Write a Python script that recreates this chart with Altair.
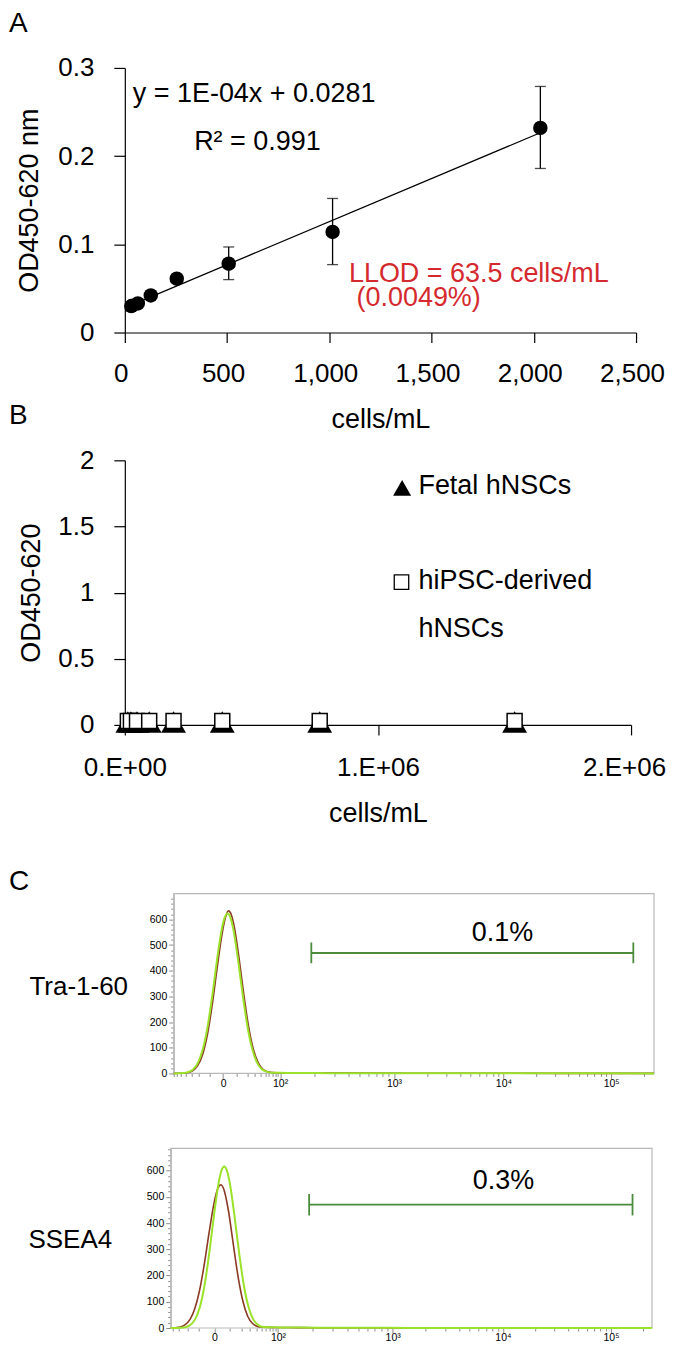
import math
import altair as alt
import pandas as pd

FONT = "Liberation Sans"
RED = "#d42a2f"
BROWN = "#8b3a24"
LIME = "#9be22a"
GATE = "#4b8b3b"
FRAME = "#b8b8b8"
TICKGRAY = "#8c8c8c"

# ---------------- Panel A data ----------------
A_CELLS = [31.75, 63.5, 127, 254, 508, 1016, 2032]
A_OD = [0.030, 0.033, 0.042, 0.061, 0.078, 0.114, 0.232]
A_OD_LOW = [0.027, 0.030, 0.039, 0.057, 0.060, 0.077, 0.186]
A_OD_HIGH = [0.033, 0.036, 0.045, 0.065, 0.097, 0.152, 0.279]
A_X_TICKS = [0, 500, 1000, 1500, 2000, 2500]
A_Y_TICKS = [0, 0.1, 0.2, 0.3]
A_NOTE_TEXT = ["y = 1E-04x + 0.0281", "R² = 0.991", "LLOD = 63.5 cells/mL", "(0.0049%)"]
A_NOTE_X = [39, 339, 1096, 1133]
A_NOTE_Y = [0.2615, 0.2064, 0.0569, 0.0306]
A_NOTE_COLOR = ["black", "black", RED, RED]

# ---------------- Panel B data ----------------
B_CELLS = [12031, 24063, 48125, 96250, 192500, 385000, 770000, 1540000]
B_FETAL = [0.022, 0.022, 0.022, 0.022, 0.022, 0.022, 0.022, 0.022]
B_IPSC = [0.030, 0.030, 0.030, 0.030, 0.030, 0.030, 0.030, 0.030]
B_X_TICKS = [0, 1000000, 2000000]
B_X_LABELS = ["0.E+00", "1.E+06", "2.E+06"]
B_Y_TICKS = [0, 0.5, 1, 1.5, 2]
B_LEG_TEXT = ["Fetal hNSCs", "hiPSC-derived", "hNSCs"]
B_LEG_TEXT_X = [1160000, 1160000, 1160000]
B_LEG_TEXT_Y = [1.743, 1.026, 0.664]
B_LEG_SYM_X = [1095500, 1093000]
B_LEG_SYM_Y = [1.792, 1.079]

# ---------------- Panel C data (display channel units; 0..1000 is the framed range) ----------------
C_X_LABELS = ["0", "10²", "10³", "10⁴", "10⁵"]
C1_X_MAJOR = [102.8, 221.4, 458.5, 686.4, 910.8]
C2_X_MAJOR = [90.7, 222.7, 461.0, 690.2, 914.7]
C_FRAME_X = [0, 1000]
C_YMAX = [700, 685]
C_XMIN = [-101.9, -95.5]

C1_GREEN_X = [0, 10, 20, 30, 40, 50, 60, 70, 80, 90, 100, 106, 112, 118, 124, 134, 144, 154, 164, 174, 184,
              194, 205, 220, 240, 270, 320, 400, 500, 600, 700, 800, 900, 1000]
C1_GREEN_Y = [0, 0.5, 1.5, 5, 15, 40, 91, 177, 300, 441, 562, 607, 623, 607, 562, 441, 300, 177, 91, 40, 15,
              6, 3, 2.5, 2, 1.5, 1, 1, 0.5, 0.5, 0.3, 0.2, 0.1, 0]
C1_BROWN_X = [0, 10, 20, 30, 40, 50, 60, 70, 80, 90, 100, 108, 114, 120, 126, 136, 146, 156, 166, 176, 186,
              196, 207, 220, 240, 270, 320, 400, 500, 600, 700, 800, 900, 1000]
C1_BROWN_Y = [0, 0.3, 1, 3.5, 11, 31, 73, 150, 266, 406, 537, 610, 633, 617, 571, 448, 305, 180, 92, 41, 15,
              6, 3, 2.5, 2, 1.5, 1, 1, 0.5, 0.5, 0.3, 0.2, 0.1, 0]
C2_GREEN_X = [0, 10, 20, 30, 40, 50, 60, 70, 80, 90, 100, 106, 111, 116, 122, 132, 142, 152, 162, 172, 182,
              192, 205, 220, 240, 270, 320, 400, 500, 600, 700, 800, 900, 1000]
C2_GREEN_Y = [0, 0.2, 0.8, 3, 11, 31, 77, 161, 286, 433, 559, 604, 616, 604, 559, 433, 286, 161, 77, 31, 11,
              4, 3, 2.5, 2, 1.5, 1, 1, 0.5, 0.5, 0.3, 0.2, 0.1, 0]
C2_BROWN_X = [0, 10, 20, 30, 40, 50, 60, 70, 80, 90, 98, 104, 110, 120, 130, 140, 150, 160, 170, 180, 190,
              205, 220, 240, 270, 320, 400, 500, 600, 700, 800, 900, 1000]
C2_BROWN_Y = [0, 1, 4, 13, 33, 74, 145, 247, 368, 477, 533, 546, 530, 445, 318, 194, 101, 44, 17, 6, 3,
              2.5, 2, 2, 1.5, 1, 1, 0.5, 0.5, 0.3, 0.2, 0.1, 0]

C_ROW_LABELS = ["Tra-1-60", "SSEA4"]
C_PCT = ["0.1%", "0.3%"]
C_PCT_X = [684.3, 691.4]
C_PCT_Y = [517.6, 530.4]
C_GATE_X1 = [286.4, 287.5]
C_GATE_X2 = [956.9, 959.5]
C_GATE_Y = [469, 470]
C_GATE_LO = [429, 429]
C_GATE_HI = [510, 511]


def spacer(w, h):
    return alt.Chart(pd.DataFrame({"v": [0]})).mark_point(opacity=0).encode(
        x=alt.X("v:Q", axis=None), y=alt.Y("v:Q", axis=None)
    ).properties(width=w, height=h)


def letter(t, dy):
    return alt.TitleParams(text=t, anchor="start", frame="group", dx=-116, dy=dy, offset=0, fontSize=28,
                           font=FONT, fontWeight="normal", baseline="alphabetic", color="black")


def main_axis(**kw):
    base = dict(grid=False, domainColor="black", domainWidth=1.2, tickColor="black", tickWidth=1.2,
                labelFont=FONT, labelFontSize=26, labelColor="black", labelOverlap=False,
                titleFont=FONT, titleFontSize=27, titleFontWeight="normal", titleColor="black",
                titleBaseline="alphabetic", titleAlign="center")
    base.update(kw)
    return alt.Axis(**base)


# ---------------- Panel A ----------------
dfA = pd.DataFrame({"x": A_CELLS, "y": A_OD, "lo": A_OD_LOW, "hi": A_OD_HIGH})
xsA = alt.Scale(domain=[0, 2500], nice=False, zero=False)
ysA = alt.Scale(domain=[0, 0.3], nice=False, zero=False)
xaxA = main_axis(values=A_X_TICKS, format=",d", title="cells/mL", tickSize=10, labelPadding=39,
                 labelBaseline="alphabetic", labelFlush=False, labelOffset=-4, titleX=256, titleY=95)
yaxA = main_axis(values=A_Y_TICKS, format="~g", title="OD450-620 nm", tickSize=11, labelPadding=20,
                 titleAngle=270, titleX=-87, titleY=132.5)


def XA(f):
    return alt.X(f, type="quantitative", scale=xsA, axis=xaxA)


def YA(f):
    return alt.Y(f, type="quantitative", scale=ysA, axis=yaxA)


A_trend = alt.Chart(dfA).transform_regression("x", "y").mark_line(color="black", strokeWidth=1.3).encode(
    x=XA("x"), y=YA("y"))
A_err = alt.Chart(dfA).mark_rule(color="black", strokeWidth=1.3).encode(x=XA("x"), y=YA("lo"), y2="hi")
A_cap_lo = alt.Chart(dfA).mark_tick(color="black", orient="horizontal", size=11, thickness=1.3).encode(
    x=XA("x"), y=YA("lo"))
A_cap_hi = alt.Chart(dfA).mark_tick(color="black", orient="horizontal", size=11, thickness=1.3).encode(
    x=XA("x"), y=YA("hi"))
A_pts = alt.Chart(dfA).mark_circle(color="black", size=210, opacity=1).encode(x=XA("x"), y=YA("y"))
dfA_notes = pd.DataFrame({"t": A_NOTE_TEXT, "x": A_NOTE_X, "y": A_NOTE_Y, "c": A_NOTE_COLOR})
A_notes = alt.Chart(dfA_notes).mark_text(align="left", baseline="alphabetic", font=FONT, fontSize=27).encode(
    x=XA("x"), y=YA("y"), text="t:N", color=alt.Color("c:N", scale=None))

chartA = alt.layer(A_trend, A_err, A_cap_lo, A_cap_hi, A_pts, A_notes).properties(
    width=512, height=265, title=letter("A", 5))

# ---------------- Panel B ----------------
dfB = pd.DataFrame({"x": B_CELLS, "fetal": B_FETAL, "ipsc": B_IPSC})
xsB = alt.Scale(domain=[0, 2000000], nice=False, zero=False)
ysB = alt.Scale(domain=[0, 2], nice=False, zero=False)
b_label_expr = " : ".join(
    f"datum.value == {v} ? '{lab}'" for v, lab in zip(B_X_TICKS, B_X_LABELS)) + " : ''"
xaxB = main_axis(values=B_X_TICKS, labelExpr=b_label_expr, title="cells/mL", tickSize=10, labelPadding=41,
                 labelBaseline="alphabetic", labelFlush=False,
                 labelOffset={"condition": {"test": f"datum.value == {B_X_TICKS[-1]}", "value": -7},
                              "value": 0},
                 titleX=253.5, titleY=97)
yaxB = main_axis(values=B_Y_TICKS, format="~g", title="OD450-620", tickSize=11, labelPadding=20,
                 titleAngle=270, titleX=-85, titleY=132.5)


def XB(f):
    return alt.X(f, type="quantitative", scale=xsB, axis=xaxB)


def YB(f):
    return alt.Y(f, type="quantitative", scale=ysB, axis=yaxB)


B_tri = alt.Chart(dfB).mark_point(shape="triangle-up", filled=True, color="black", size=620, opacity=1).encode(
    x=XB("x"), y=YB("fetal"))
B_sq = alt.Chart(dfB).mark_point(shape="square", filled=True, fill="white", stroke="black", strokeWidth=1.5,
                                 size=225, opacity=1).encode(x=XB("x"), y=YB("ipsc"))
dfB_sym = pd.DataFrame({"x": B_LEG_SYM_X, "y": B_LEG_SYM_Y})
B_leg_tri = alt.Chart(dfB_sym.iloc[[0]]).mark_point(shape="triangle-up", filled=True, color="black", size=324,
                                                     opacity=1).encode(x=XB("x"), y=YB("y"))
B_leg_sq = alt.Chart(dfB_sym.iloc[[1]]).mark_point(shape="square", filled=True, fill="white", stroke="black",
                                                    strokeWidth=1.3, size=210, opacity=1).encode(
    x=XB("x"), y=YB("y"))
dfB_txt = pd.DataFrame({"t": B_LEG_TEXT, "x": B_LEG_TEXT_X, "y": B_LEG_TEXT_Y})
B_leg_txt = alt.Chart(dfB_txt).mark_text(align="left", baseline="alphabetic", font=FONT, fontSize=27,
                                         color="black").encode(x=XB("x"), y=YB("y"), text="t:N")

chartB = alt.layer(B_tri, B_sq, B_leg_tri, B_leg_sq, B_leg_txt).properties(
    width=507, height=265, title=letter("B", 5))


# ---------------- Panel C ----------------
def x_minor(major, end=1000):
    p0, p2, p3, p4, p5 = major
    w = p2 - p0
    out = []
    for m in range(1, 10):
        f = math.asinh(m * 10 / 15) / math.asinh(100 / 15)
        out.append(p0 + w * f)
        out.append(p0 - w * f)
    for start, d in [(p2, p3 - p2), (p3, p4 - p3), (p4, p5 - p4), (p5, p5 - p4)]:
        for m in range(2, 10):
            out.append(start + d * math.log10(m))
    return [round(v, 2) for v in out if 0 <= v <= end]


def hist(i, major, gx, gy, bx, by, width, yoffset, title_x, title_y, title=None):
    xs = alt.Scale(domain=[C_XMIN[i], 1000], nice=False, zero=False)
    ys = alt.Scale(domain=[0, C_YMAX[i]], nice=False, zero=False)
    xvals = sorted(set(major + x_minor(major)))
    lab_expr = " : ".join(f"datum.value == {v} ? '{lab}'" for v, lab in zip(major, C_X_LABELS)) + " : ''"
    major_js = "[" + ",".join(str(v) for v in major) + "]"
    xax = alt.Axis(values=xvals, labelExpr=lab_expr, title=None, grid=False, domain=False,
                   tickColor=TICKGRAY, tickWidth=1,
                   tickSize={"condition": {"test": f"indexof({major_js}, datum.value) >= 0", "value": 5},
                             "value": 3},
                   labelFont=FONT, labelFontSize=10.5, labelColor="black", labelPadding=0,
                   labelFlush=False, labelOverlap=False)
    yvals = list(range(0, 700, 20))
    yax = alt.Axis(values=yvals, labelExpr="datum.value % 100 === 0 && datum.value <= 600 ? datum.label : ''",
                   grid=False, domainColor=FRAME, domainWidth=1.2, tickColor=TICKGRAY, tickWidth=1,
                   tickSize={"condition": {"test": "datum.value % 100 === 0", "value": 5}, "value": 3},
                   labelFont=FONT, labelFontSize=10.5, labelColor="black", labelPadding=2, labelOverlap=False,
                   offset=yoffset,
                   title=C_ROW_LABELS[i], titleFont=FONT, titleFontSize=26, titleFontWeight="normal",
                   titleColor="black", titleAngle=0, titleAlign="left", titleBaseline="alphabetic",
                   titleX=title_x, titleY=title_y)

    def X(f):
        return alt.X(f, type="quantitative", scale=xs, axis=xax)

    def Y(f):
        return alt.Y(f, type="quantitative", scale=ys, axis=yax)

    fdf = pd.DataFrame({"x1": [C_FRAME_X[0]], "x2": [C_FRAME_X[1]], "y1": [0], "y2": [C_YMAX[i]]})
    frame = alt.Chart(fdf).mark_rect(fill="white", fillOpacity=0, stroke=FRAME, strokeWidth=1.2).encode(
        x=X("x1"), x2="x2", y=Y("y1"), y2="y2")
    brown = alt.Chart(pd.DataFrame({"x": bx, "y": by})).mark_line(
        color=BROWN, strokeWidth=1.6, interpolate="monotone").encode(x=X("x"), y=Y("y"))
    green = alt.Chart(pd.DataFrame({"x": gx, "y": gy})).mark_line(
        color=LIME, strokeWidth=2, interpolate="monotone").encode(x=X("x"), y=Y("y"))
    gdf = pd.DataFrame({"x1": [C_GATE_X1[i]], "x2": [C_GATE_X2[i]], "y": [C_GATE_Y[i]],
                        "lo": [C_GATE_LO[i]], "hi": [C_GATE_HI[i]]})
    gate = alt.Chart(gdf).mark_rule(color=GATE, strokeWidth=1.8).encode(x=X("x1"), x2="x2", y=Y("y"))
    capl = alt.Chart(gdf).mark_rule(color=GATE, strokeWidth=1.8).encode(x=X("x1"), y=Y("lo"), y2="hi")
    capr = alt.Chart(gdf).mark_rule(color=GATE, strokeWidth=1.8).encode(x=X("x2"), y=Y("lo"), y2="hi")
    pdf = pd.DataFrame({"t": [C_PCT[i]], "x": [C_PCT_X[i]], "y": [C_PCT_Y[i]]})
    pct = alt.Chart(pdf).mark_text(align="center", baseline="alphabetic", font=FONT, fontSize=27,
                                   color="black").encode(x=X("x"), y=Y("y"), text="t:N")
    props = dict(width=width, height=180)
    if title is not None:
        props["title"] = title
    return alt.layer(frame, brown, green, gate, capl, capr, pct).properties(**props)


chartC1 = hist(0, C1_X_MAJOR, C1_GREEN_X, C1_GREEN_Y, C1_BROWN_X, C1_BROWN_Y, 530, -49, -145, 100.7,
               letter("C", 25))
chartC2 = hist(1, C2_X_MAJOR, C2_GREEN_X, C2_GREEN_Y, C2_BROWN_X, C2_BROWN_Y, 528, -46, -143, 99)

chart = alt.vconcat(
    chartA, spacer(1, 128), chartB, spacer(1, 169), chartC1, spacer(1, 75), chartC2,
    spacing=0, bounds="flush"
).properties(padding=0).configure(font=FONT).configure_view(stroke="transparent")

chart.save("out.html", embed_options={"renderer": "svg", "actions": False})
